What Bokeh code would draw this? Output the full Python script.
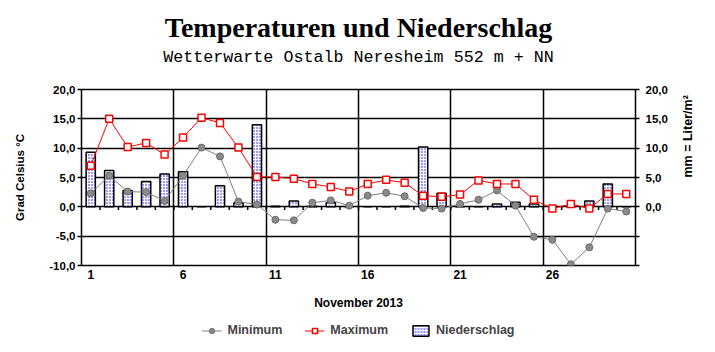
import math
from bokeh.plotting import figure
from bokeh.layouts import column
from bokeh.models import (Range1d, LinearAxis, FixedTicker, CustomJSTickFormatter,
                          Title, Legend, LegendItem, Grid)
from bokeh.embed import file_html
from bokeh.resources import INLINE

# ---------------- data ----------------
days = list(range(1, 31))
tmin = [2.3, 5.3, 2.6, 2.5, 1.0, 5.3, 10.1, 8.6, 0.9, 0.4,
        -2.2, -2.3, 0.7, 1.1, 0.2, 1.9, 2.4, 1.8, -0.2, -0.3,
        0.5, 1.2, 2.8, 0.2, -5.1, -5.6, -9.8, -6.9, -0.3, -0.8]
tmax = [7.0, 15.0, 10.2, 10.9, 8.9, 11.8, 15.2, 14.3, 10.1, 5.1,
        5.1, 4.8, 3.9, 3.4, 2.6, 3.9, 4.6, 4.1, 1.9, 1.7,
        2.1, 4.5, 3.9, 3.9, 1.2, -0.3, 0.5, -0.3, 2.2, 2.2]
rain = [9.3, 6.2, 2.8, 4.3, 5.6, 6.0, 0.0, 3.6, 0.7, 14.0,
        0.1, 1.0, 0.1, 0.7, 0.0, 0.0, 0.0, 0.1, 10.2, 2.3,
        0.0, 0.0, 0.5, 0.8, 0.5, 0.0, 0.0, 1.0, 3.9, 0.0]
x_tick_days = [1, 6, 11, 16, 21, 26]
temp_ticks = [-10, -5, 0, 5, 10, 15, 20]
rain_ticks = [0, 5, 10, 15, 20]

title_text = "Temperaturen und Niederschlag"
subtitle_text = "Wetterwarte Ostalb Neresheim 552 m + NN"
x_label = "November 2013"
y_label_left = "Grad Celsius °C"
y_label_right = "mm = Liter/m²"
series_names = ["Minimum", "Maximum", "Niederschlag"]

SANS = "Liberation Sans"

MIN_STYLE = dict(line_color="#808080", line_width=1)
MIN_PT = dict(marker="circle", size=7, fill_color="#8a8a8a", line_color="#6a6a6a", line_width=1)
MAX_STYLE = dict(line_color="red", line_width=1)
MAX_PT = dict(marker="square", size=7, fill_color="white", line_color="red", line_width=1.5)
BAR_STYLE = dict(width=0.5, fill_color="white", hatch_pattern="dot", hatch_color="blue",
                 hatch_scale=3, hatch_weight=1, line_color="black", line_width=1.5)

p = figure(frame_width=554, frame_height=176, output_backend="svg", toolbar_location=None,
           x_range=Range1d(0.5, 30.5), y_range=Range1d(-10, 20),
           x_axis_location=None, y_axis_location=None,
           min_border_left=81, min_border_right=80,
           min_border_top=89, min_border_bottom=52)
p.grid.visible = False
p.extra_y_ranges = {"rain": Range1d(-10, 20)}
p.outline_line_color = "black"
p.outline_line_width = 1.5
p.background_fill_color = "white"
p.border_fill_color = "white"

# grids
vgrid = Grid(dimension=0, ticker=FixedTicker(ticks=[d - 0.5 for d in x_tick_days[1:]]),
             grid_line_color="black", grid_line_width=1.5)
hgrid = Grid(dimension=1, ticker=FixedTicker(ticks=temp_ticks),
             grid_line_color="black", grid_line_width=1.5)
p.add_layout(vgrid)
p.add_layout(hgrid)

fmt_code = "return tick.toFixed(1).replace('.', ',');"
left = LinearAxis(ticker=FixedTicker(ticks=temp_ticks),
                  formatter=CustomJSTickFormatter(code=fmt_code))
right = LinearAxis(y_range_name="rain", ticker=FixedTicker(ticks=temp_ticks),
                   formatter=CustomJSTickFormatter(
                       code="return (tick < %d) ? '' : tick.toFixed(1).replace('.', ',');" % min(rain_ticks)))
for ax in (left, right):
    ax.axis_line_color = None
    ax.major_tick_out = 4
    ax.major_tick_in = 0
    ax.major_tick_line_color = "black"
    ax.major_tick_line_width = 1.5
    ax.minor_tick_line_color = None
    ax.major_label_standoff = 2
    ax.major_label_text_font = SANS
    ax.major_label_text_font_style = "bold"
    ax.major_label_text_font_size = "11.5px"
    ax.major_label_text_color = "black"
    ax.axis_label_text_font = SANS
    ax.axis_label_text_font_style = "bold"
    ax.axis_label_text_color = "black"
right.major_label_standoff = 6
left.axis_label = y_label_left
left.axis_label_text_font_size = "11.5px"
left.axis_label_standoff = 20
right.axis_label = y_label_right
right.axis_label_text_font_size = "12.5px"
right.axis_label_standoff = 17
if "axis_label_orientation" in right.properties():
    right.axis_label_orientation = math.pi / 2
p.add_layout(left, "left")
p.add_layout(right, "right")

bottom = LinearAxis(ticker=FixedTicker(ticks=x_tick_days))
bottom.axis_line_color = None
bottom.major_tick_line_color = None
bottom.major_tick_out = 0
bottom.major_tick_in = 0
bottom.minor_tick_line_color = None
bottom.minor_tick_out = 0
bottom.major_label_standoff = 4
bottom.major_label_text_font = SANS
bottom.major_label_text_font_style = "bold"
bottom.major_label_text_font_size = "12px"
bottom.major_label_text_color = "black"
bottom.axis_label = x_label
bottom.axis_label_standoff = 14
bottom.axis_label_text_font = SANS
bottom.axis_label_text_font_style = "bold"
bottom.axis_label_text_font_size = "12px"
bottom.axis_label_text_color = "black"
p.add_layout(bottom, "below")

# bars
p.vbar(x=days, top=rain, bottom=0, y_range_name="rain", **BAR_STYLE)

# small ticks on zero line at day boundaries
bounds = [d + 0.5 for d in days[:-1]]
p.segment(x0=bounds, y0=[0] * len(bounds), x1=bounds, y1=[-0.55] * len(bounds),
          line_color="black", line_width=1.5)

# lines
p.line(days, tmin, **MIN_STYLE)
p.scatter(days, tmin, **MIN_PT)
p.line(days, tmax, **MAX_STYLE)
p.scatter(days, tmax, **MAX_PT)

# titles (stacked outward from the frame: spacer, subtitle, title)
p.add_layout(Title(text=" ", text_font_size="1px", standoff=20), "above")
p.add_layout(Title(text=subtitle_text, align="center", text_font="Liberation Mono",
                   text_font_size="16.7px", text_font_style="normal", text_color="black",
                   standoff=0), "above")
p.add_layout(Title(text=title_text, align="center", text_font="Liberation Serif",
                   text_font_size="28px", text_font_style="bold", text_color="black",
                   standoff=5), "above")

# ---------------- legend strip (same series as hidden renderers; only the legend shows) ----
lg = figure(width=715, height=26, output_backend="svg", toolbar_location=None,
            x_range=Range1d(0.5, 30.5), y_range=Range1d(-10, 20),
            x_axis_location=None, y_axis_location=None, min_border=0)
lg.grid.visible = False
lg.outline_line_color = None
lg.background_fill_color = "white"
lg.border_fill_color = "white"
lb = lg.vbar(x=days, top=rain, bottom=0, visible=False, **BAR_STYLE)
l1 = lg.line(days, tmin, visible=False, **MIN_STYLE)
s1 = lg.scatter(days, tmin, visible=False, **MIN_PT)
l2 = lg.line(days, tmax, visible=False, **MAX_STYLE)
s2 = lg.scatter(days, tmax, visible=False, **MAX_PT)

legend = Legend(items=[LegendItem(label=series_names[0], renderers=[l1, s1]),
                       LegendItem(label=series_names[1], renderers=[l2, s2]),
                       LegendItem(label=series_names[2], renderers=[lb])],
                orientation="horizontal", location="center", click_policy="none",
                inactive_fill_alpha=0,
                border_line_color=None, background_fill_alpha=0,
                label_text_font=SANS, label_text_font_style="bold",
                label_text_font_size="12.5px", glyph_width=20, glyph_height=13,
                spacing=22, label_standoff=6, padding=2, margin=0)
lg.add_layout(legend, "center")

layout = column(p, lg, spacing=0)
open("out.html", "w").write(file_html(layout, INLINE))
